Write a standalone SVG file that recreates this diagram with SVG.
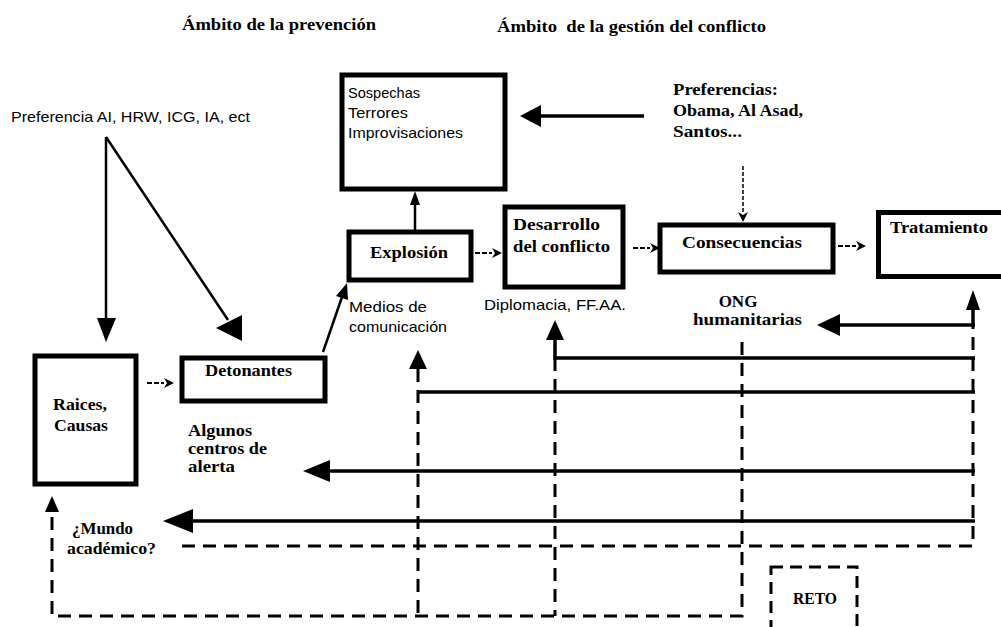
<svg xmlns="http://www.w3.org/2000/svg" width="1001" height="627" viewBox="0 0 1001 627">
<style>
  .box { fill: #fff; stroke: #000; stroke-width: 5; }
  .bs { font-family: "Liberation Serif", "Times New Roman", serif; font-weight: bold; font-size: 17px; fill: #000; }
  .hd { font-family: "Liberation Serif", "Times New Roman", serif; font-weight: bold; font-size: 16px; fill: #000; }
  .ss { font-family: "Liberation Sans", Arial, sans-serif; font-size: 15px; fill: #000; }
  .ln { fill: none; stroke: #000; stroke-width: 3.5; }
  .thin { fill: none; stroke: #000; stroke-width: 2.5; }
  .dash { fill: none; stroke: #000; stroke-width: 3; stroke-dasharray: 13 8; }
  .sd { fill: none; stroke: #000; stroke-width: 2; stroke-dasharray: 5 2; }
  .dot { fill: none; stroke: #000; stroke-width: 1.5; stroke-dasharray: 4 2; }
  .head { fill: #000; stroke: none; }
</style>
<defs>
  <marker id="sm" viewBox="0 0 10 10" refX="0" refY="5" markerWidth="10" markerHeight="10" orient="auto" markerUnits="userSpaceOnUse">
    <path d="M0,0 L10,5 L0,10 L3,5 z" fill="#000"/>
  </marker>
</defs>

<rect width="1001" height="627" fill="#fff"/>

<g id="headers">
  <text class="hd" x="182" y="30" textLength="194" lengthAdjust="spacingAndGlyphs">Ámbito de la prevención</text>
  <text class="hd" x="497" y="32" textLength="269" lengthAdjust="spacingAndGlyphs" xml:space="preserve">Ámbito  de la gestión del conflicto</text>
</g>

<g id="preferencia-ai">
  <text class="ss" x="11" y="122" textLength="239" lengthAdjust="spacingAndGlyphs">Preferencia AI, HRW, ICG, IA, ect</text>
</g>

<g id="sospechas">
  <rect class="box" x="342" y="75" width="163" height="114"/>
  <text class="ss" x="348" y="98" textLength="72" lengthAdjust="spacingAndGlyphs">Sospechas</text>
  <text class="ss" x="348" y="118" textLength="60" lengthAdjust="spacingAndGlyphs">Terrores</text>
  <text class="ss" x="348" y="138" textLength="115" lengthAdjust="spacingAndGlyphs">Improvisaciones</text>
</g>

<g id="preferencias">
  <text class="bs" x="673" y="95" textLength="105" lengthAdjust="spacingAndGlyphs">Preferencias:</text>
  <text class="bs" x="673" y="116" textLength="130" lengthAdjust="spacingAndGlyphs">Obama, Al Asad,</text>
  <text class="bs" x="673" y="137" textLength="69" lengthAdjust="spacingAndGlyphs">Santos...</text>
</g>

<g id="raices">
  <rect class="box" x="35" y="356" width="101" height="128"/>
  <text class="bs" x="53" y="410" textLength="54" lengthAdjust="spacingAndGlyphs">Raices,</text>
  <text class="bs" x="54" y="431" textLength="54" lengthAdjust="spacingAndGlyphs">Causas</text>
</g>

<g id="detonantes">
  <rect class="box" x="182" y="358" width="143" height="43" stroke-width="4"/>
  <text class="bs" x="205" y="376" textLength="87" lengthAdjust="spacingAndGlyphs" font-size="16">Detonantes</text>
</g>

<g id="explosion">
  <rect class="box" x="349" y="232" width="122" height="48"/>
  <text class="bs" x="370" y="258" textLength="78" lengthAdjust="spacingAndGlyphs">Explosión</text>
</g>

<g id="medios">
  <text class="ss" x="349" y="312" textLength="78" lengthAdjust="spacingAndGlyphs">Medios de</text>
  <text class="ss" x="349" y="332" textLength="98" lengthAdjust="spacingAndGlyphs">comunicación</text>
</g>

<g id="desarrollo">
  <rect class="box" x="505" y="207" width="118" height="80"/>
  <text class="bs" x="513" y="230" textLength="87" lengthAdjust="spacingAndGlyphs">Desarrollo</text>
  <text class="bs" x="513" y="252" textLength="97" lengthAdjust="spacingAndGlyphs">del conflicto</text>
</g>

<g id="diplomacia">
  <text class="ss" x="484" y="310" textLength="142" lengthAdjust="spacingAndGlyphs">Diplomacia, FF.AA.</text>
</g>

<g id="consecuencias">
  <rect class="box" x="660" y="225" width="173" height="47"/>
  <text class="bs" x="682" y="248" textLength="120" lengthAdjust="spacingAndGlyphs">Consecuencias</text>
</g>

<g id="tratamiento">
  <rect class="box" x="878.5" y="212.5" width="130" height="64" stroke-width="6"/>
  <text class="bs" x="890" y="233" textLength="98" lengthAdjust="spacingAndGlyphs">Tratamiento</text>
</g>

<g id="ong">
  <text class="bs" x="738" y="307" text-anchor="middle" font-size="15">ONG</text>
  <text class="bs" x="693" y="325" textLength="109" lengthAdjust="spacingAndGlyphs" font-size="16">humanitarias</text>
</g>

<g id="algunos">
  <text class="bs" x="188" y="436" textLength="64" lengthAdjust="spacingAndGlyphs" font-size="16">Algunos</text>
  <text class="bs" x="188" y="454" textLength="79" lengthAdjust="spacingAndGlyphs" font-size="16">centros de</text>
  <text class="bs" x="188" y="472" textLength="47" lengthAdjust="spacingAndGlyphs" font-size="16">alerta</text>
</g>

<g id="mundo">
  <text class="bs" x="72" y="534" textLength="61" lengthAdjust="spacingAndGlyphs" font-size="16">¿Mundo</text>
  <text class="bs" x="67" y="554" textLength="89" lengthAdjust="spacingAndGlyphs" font-size="16">académico?</text>
</g>

<g id="reto">
  <rect x="771" y="567" width="86" height="70" fill="none" stroke="#000" stroke-width="3" stroke-dasharray="12 7"/>
  <text class="bs" x="793" y="604" textLength="44" lengthAdjust="spacingAndGlyphs" font-size="15">RETO</text>
</g>

<g id="connectors">
  <line class="ln" x1="644" y1="116" x2="540" y2="116"/>
  <polygon class="head" points="520,116 541,105 541,127"/>
  <polyline class="thin" points="106,137 106,320"/>
  <polygon class="head" points="106,342 97,318 116,318"/>
  <line class="thin" x1="106" y1="137" x2="228" y2="320"/>
  <polygon class="head" points="242,341 216,328 242,315"/>
  <line class="sd" x1="147" y1="383" x2="164" y2="383" marker-end="url(#sm)"/>
  <line class="thin" x1="323" y1="352" x2="342" y2="297"/>
  <polygon class="head" points="347,283 336,296 348,300"/>
  <line class="thin" x1="415" y1="232" x2="415" y2="203"/>
  <polygon class="head" points="415,191 410,205 420,205"/>
  <line class="sd" x1="475" y1="253" x2="492" y2="253" marker-end="url(#sm)"/>
  <line class="sd" x1="633" y1="248" x2="650" y2="248" marker-end="url(#sm)"/>
  <line class="dot" x1="743" y1="166" x2="743" y2="212" marker-end="url(#sm)"/>
  <line class="sd" x1="838" y1="246" x2="856" y2="246" marker-end="url(#sm)"/>

  <line class="ln" x1="973" y1="326" x2="973" y2="308"/>
  <polygon class="head" points="973,290 966,310 980,310"/>
  <line class="ln" x1="975" y1="325" x2="838" y2="325"/>
  <polygon class="head" points="817,325 840,314 840,336"/>

  <polyline class="ln" points="975,358 555,358 555,338"/>
  <polygon class="head" points="555,320 546,340 564,340"/>

  <line class="ln" x1="975" y1="392" x2="418" y2="392"/>
  <polygon class="head" points="418,350 409,369 427,369"/>

  <line class="ln" x1="975" y1="471" x2="328" y2="471"/>
  <polygon class="head" points="303,471 330,460 330,482"/>

  <line class="ln" x1="975" y1="521" x2="190" y2="521"/>
  <polygon class="head" points="163,521 193,509 193,533"/>

  <polyline class="dash" points="182,546 973,546 973,326"/>
  <line class="dash" x1="418" y1="369" x2="418" y2="616"/>
  <line class="dash" x1="555" y1="358" x2="555" y2="616"/>
  <polyline class="dash" points="742,342 742,616 52,616 52,510"/>
  <polygon class="head" points="52,496 45,512 59,512"/>
</g>
</svg>
